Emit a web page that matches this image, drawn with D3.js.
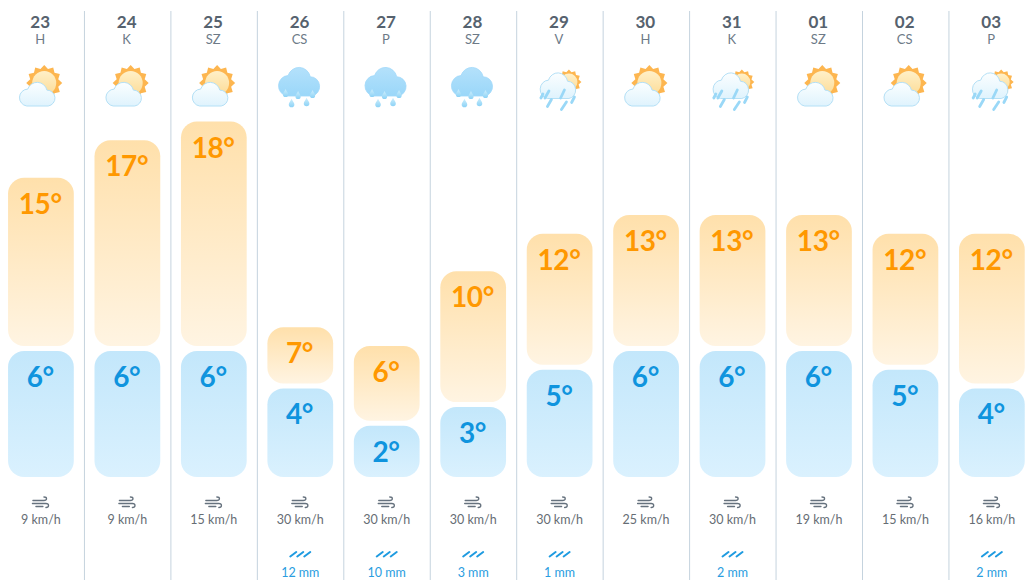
<!DOCTYPE html>
<html>
<head>
<meta charset="utf-8">
<script src="https://cdn.jsdelivr.net/npm/d3@7/dist/d3.min.js"></script>
<style>
  html, body { margin: 0; padding: 0; background: #fff; overflow: hidden; }
  svg { display: block; }
  text { text-anchor: middle; font-family: "Lato", "Noto Sans", sans-serif; }
</style>
</head>
<body>
<svg id="forecast" width="1028" height="585"></svg>
<script>
// Twelve-day forecast: one column per day with temperature range bars.
const dayNumbers = ["23","24","25","26","27","28","29","30","31","01","02","03"];
const weekdays   = ["H","K","SZ","CS","P","SZ","V","H","K","SZ","CS","P"];
const highs      = [15,17,18,7,6,10,12,13,13,13,12,12];
const lows       = [6,6,6,4,2,3,5,6,6,6,5,4];
const winds      = [9,9,15,30,30,30,30,25,30,19,15,16];
const rainfall   = [null,null,null,12,10,3,1,null,2,null,null,2];
const conditions = ["sun","sun","sun","rain","rain","rain","shower","sun","shower","sun","sun","shower"];

const svg = d3.select("#forecast");
const defs = svg.append("defs");

function linearGradient(id, stops, x2 = 0, y2 = 1) {
  const g = defs.append("linearGradient").attr("id", id)
    .attr("x1", 0).attr("y1", 0).attr("x2", x2).attr("y2", y2);
  stops.forEach(([o, c]) => g.append("stop").attr("offset", o).attr("stop-color", c));
}
linearGradient("warm", [[0, "#ffe0ab"], [1, "#fff4e2"]]);
linearGradient("cold", [[0, "#c3e7fb"], [1, "#daf1fe"]]);
linearGradient("cloudLight", [[0, "#fbfeff"], [1, "#dff3fd"]]);
linearGradient("cloudRain", [[0, "#b4e1fb"], [1, "#9ad7f9"]]);
linearGradient("sunDisc", [[0, "#fff0c8"], [1, "#fcdc98"]]);
linearGradient("drop", [[0, "#cdeefc"], [1, "#8cd2f6"]]);

const x = d3.scaleBand().domain(d3.range(dayNumbers.length)).range([-2.3, 1035.1]);
const y = d3.scaleLinear().domain([0, 18]).range([463.2, 126.6]);
const floorY = 477, gap = 5, barWidth = x.bandwidth() - 20.7, radius = 16;
const centre = i => x(i) + x.bandwidth() / 2;

// Column separators
svg.append("g").selectAll("line").data(d3.range(1, dayNumbers.length)).join("line")
  .attr("x1", i => x(i) + 0.3).attr("x2", i => x(i) + 0.3)
  .attr("y1", 11).attr("y2", 580)
  .attr("stroke", "#c5d3de").attr("stroke-width", 1);

// Three-lobed cloud on a 38x24 design box, stretched to w by h from its top-left corner
function cloudPath(w, h) {
  const sx = w / 38, sy = h / 24;
  const pt = (a, b) => `${a * sx},${b * sy}`;
  const arc = (r, a, b) => `A${r * sx},${r * sy} 0 0 1 ${pt(a, b)}`;
  return `M${pt(8.5, 24)}${arc(8.5, 9.5, 7.1)}${arc(10, 28.7, 8.1)}${arc(8, 30, 24)}Z`;
}

function sunShape(g, cx, cy, rOuter, rInner, disc) {
  const star = d3.range(24).map(k => {
    const a = k * Math.PI / 12, r = k % 2 ? rInner : rOuter;
    return [cx + r * Math.cos(a), cy + r * Math.sin(a)];
  });
  g.append("path").attr("d", d3.line()(star) + "Z").attr("fill", "#fdb650");
  g.append("circle").attr("cx", cx).attr("cy", cy).attr("r", disc).attr("fill", "url(#sunDisc)");
}

function dropShape(g, cx, cy, s) {
  g.append("path")
    .attr("d", `M${cx},${cy - s * 1.5}C${cx + s * 0.4},${cy - s * 0.5} ${cx + s},${cy} ${cx + s},${cy + s * 0.55}A${s},${s} 0 0 1 ${cx - s},${cy + s * 0.55}C${cx - s},${cy} ${cx - s * 0.4},${cy - s * 0.5} ${cx},${cy - s * 1.5}Z`)
    .attr("fill", "url(#drop)");
}

const iconDrawers = {
  sun(g) {
    sunShape(g, 4, 83, 18, 14.5, 12);
    g.append("path").attr("d", cloudPath(38, 24)).attr("transform", "translate(-22,82)")
      .attr("fill", "url(#cloudLight)").attr("stroke", "#b4e0f6").attr("stroke-width", 1);
  },
  rain(g) {
    g.append("path").attr("d", cloudPath(44, 29)).attr("transform", "translate(-22.5,67)")
      .attr("fill", "url(#cloudRain)").attr("stroke", "#9fd8fa").attr("stroke-width", 0.8);
    [[-14, 93, 2.6], [-1.5, 95, 2.6], [13, 94, 2.6], [-8, 103, 2.8], [7, 102, 2.8]]
      .forEach(([dx, dy, s]) => dropShape(g, dx, dy, s));
  },
  shower(g) {
    sunShape(g, 10, 82, 12.5, 10, 8.5);
    g.append("path").attr("d", cloudPath(38, 26)).attr("transform", "translate(-20,72.5)")
      .attr("fill", "url(#cloudLight)").attr("stroke", "#b4e0f6").attr("stroke-width", 1);
    [[-10, 91, -14, 98], [5.5, 90, 1.7, 98], [15.5, 97, 12.7, 102.5], [-7.5, 99.5, -11.5, 106.5], [7.5, 102, 2.5, 109.5], [-16, 94, -18, 98]]
      .forEach(([a, b, c, d]) => g.append("line")
        .attr("x1", a).attr("y1", b).attr("x2", c).attr("y2", d)
        .attr("stroke", "#9ad8f7").attr("stroke-width", 2.8).attr("stroke-linecap", "round"));
  }
};

const columns = svg.append("g").selectAll("g").data(dayNumbers).join("g");

columns.each(function (d, i) {
  const col = d3.select(this), cx = centre(i), left = cx - barWidth / 2, labelX = cx - 0.7;

  col.append("text").attr("x", labelX).attr("y", 28)
    .attr("font-size", 17).attr("font-weight", 700).attr("fill", "#56626e").text(d);
  col.append("text").attr("x", labelX).attr("y", 44)
    .attr("font-size", 13).attr("fill", "#6d7a87").text(weekdays[i]);

  iconDrawers[conditions[i]](col.append("g").attr("transform", `translate(${cx - 0.7},0)`));

  // High segment ends just above the low segment
  const highTop = y(highs[i]) - gap, lowTop = y(lows[i]);
  col.append("rect").attr("x", left).attr("y", highTop)
    .attr("width", barWidth).attr("height", lowTop - gap - highTop)
    .attr("rx", radius).attr("fill", "url(#warm)");
  col.append("rect").attr("x", left).attr("y", lowTop)
    .attr("width", barWidth).attr("height", floorY - lowTop)
    .attr("rx", radius).attr("fill", "url(#cold)");

  col.append("text").attr("x", labelX).attr("y", highTop + 36).attr("letter-spacing", -0.4)
    .attr("font-size", 28).attr("font-weight", 700).attr("fill", "#ff9800").text(highs[i] + "°");
  col.append("text").attr("x", labelX).attr("y", lowTop + 36).attr("letter-spacing", -0.4)
    .attr("font-size", 28).attr("font-weight", 700).attr("fill", "#0f94de").text(lows[i] + "°");

  // Wind glyph and speed
  const wind = col.append("g").attr("transform", `translate(${cx},0)`)
    .attr("fill", "none").attr("stroke", "#66727e").attr("stroke-width", 1.3).attr("stroke-linecap", "round");
  wind.append("path").attr("d", "M-8,500.5H3C6.5,500.5 6.5,497 3,497");
  wind.append("path").attr("d", "M-8.5,503.5H5C8.5,503.5 8.5,507.5 5,507.5");
  wind.append("path").attr("d", "M-5,506.5H2");
  col.append("text").attr("x", cx).attr("y", 524)
    .attr("font-size", 12.5).attr("fill", "#666d74").text(winds[i] + " km/h");

  // Rain amount, only on wet days
  if (rainfall[i] !== null) {
    const rain = col.append("g").attr("transform", `translate(${cx},0)`)
      .attr("stroke", "#1f9be0").attr("stroke-width", 2).attr("stroke-linecap", "round");
    [-7, 0, 7].forEach(dx => rain.append("line")
      .attr("x1", dx - 3).attr("y1", 556.5).attr("x2", dx + 3).attr("y2", 552));
    col.append("text").attr("x", cx).attr("y", 577)
      .attr("font-size", 12.5).attr("fill", "#2a9de0").text(rainfall[i] + " mm");
  }
});
</script>
</body>
</html>
